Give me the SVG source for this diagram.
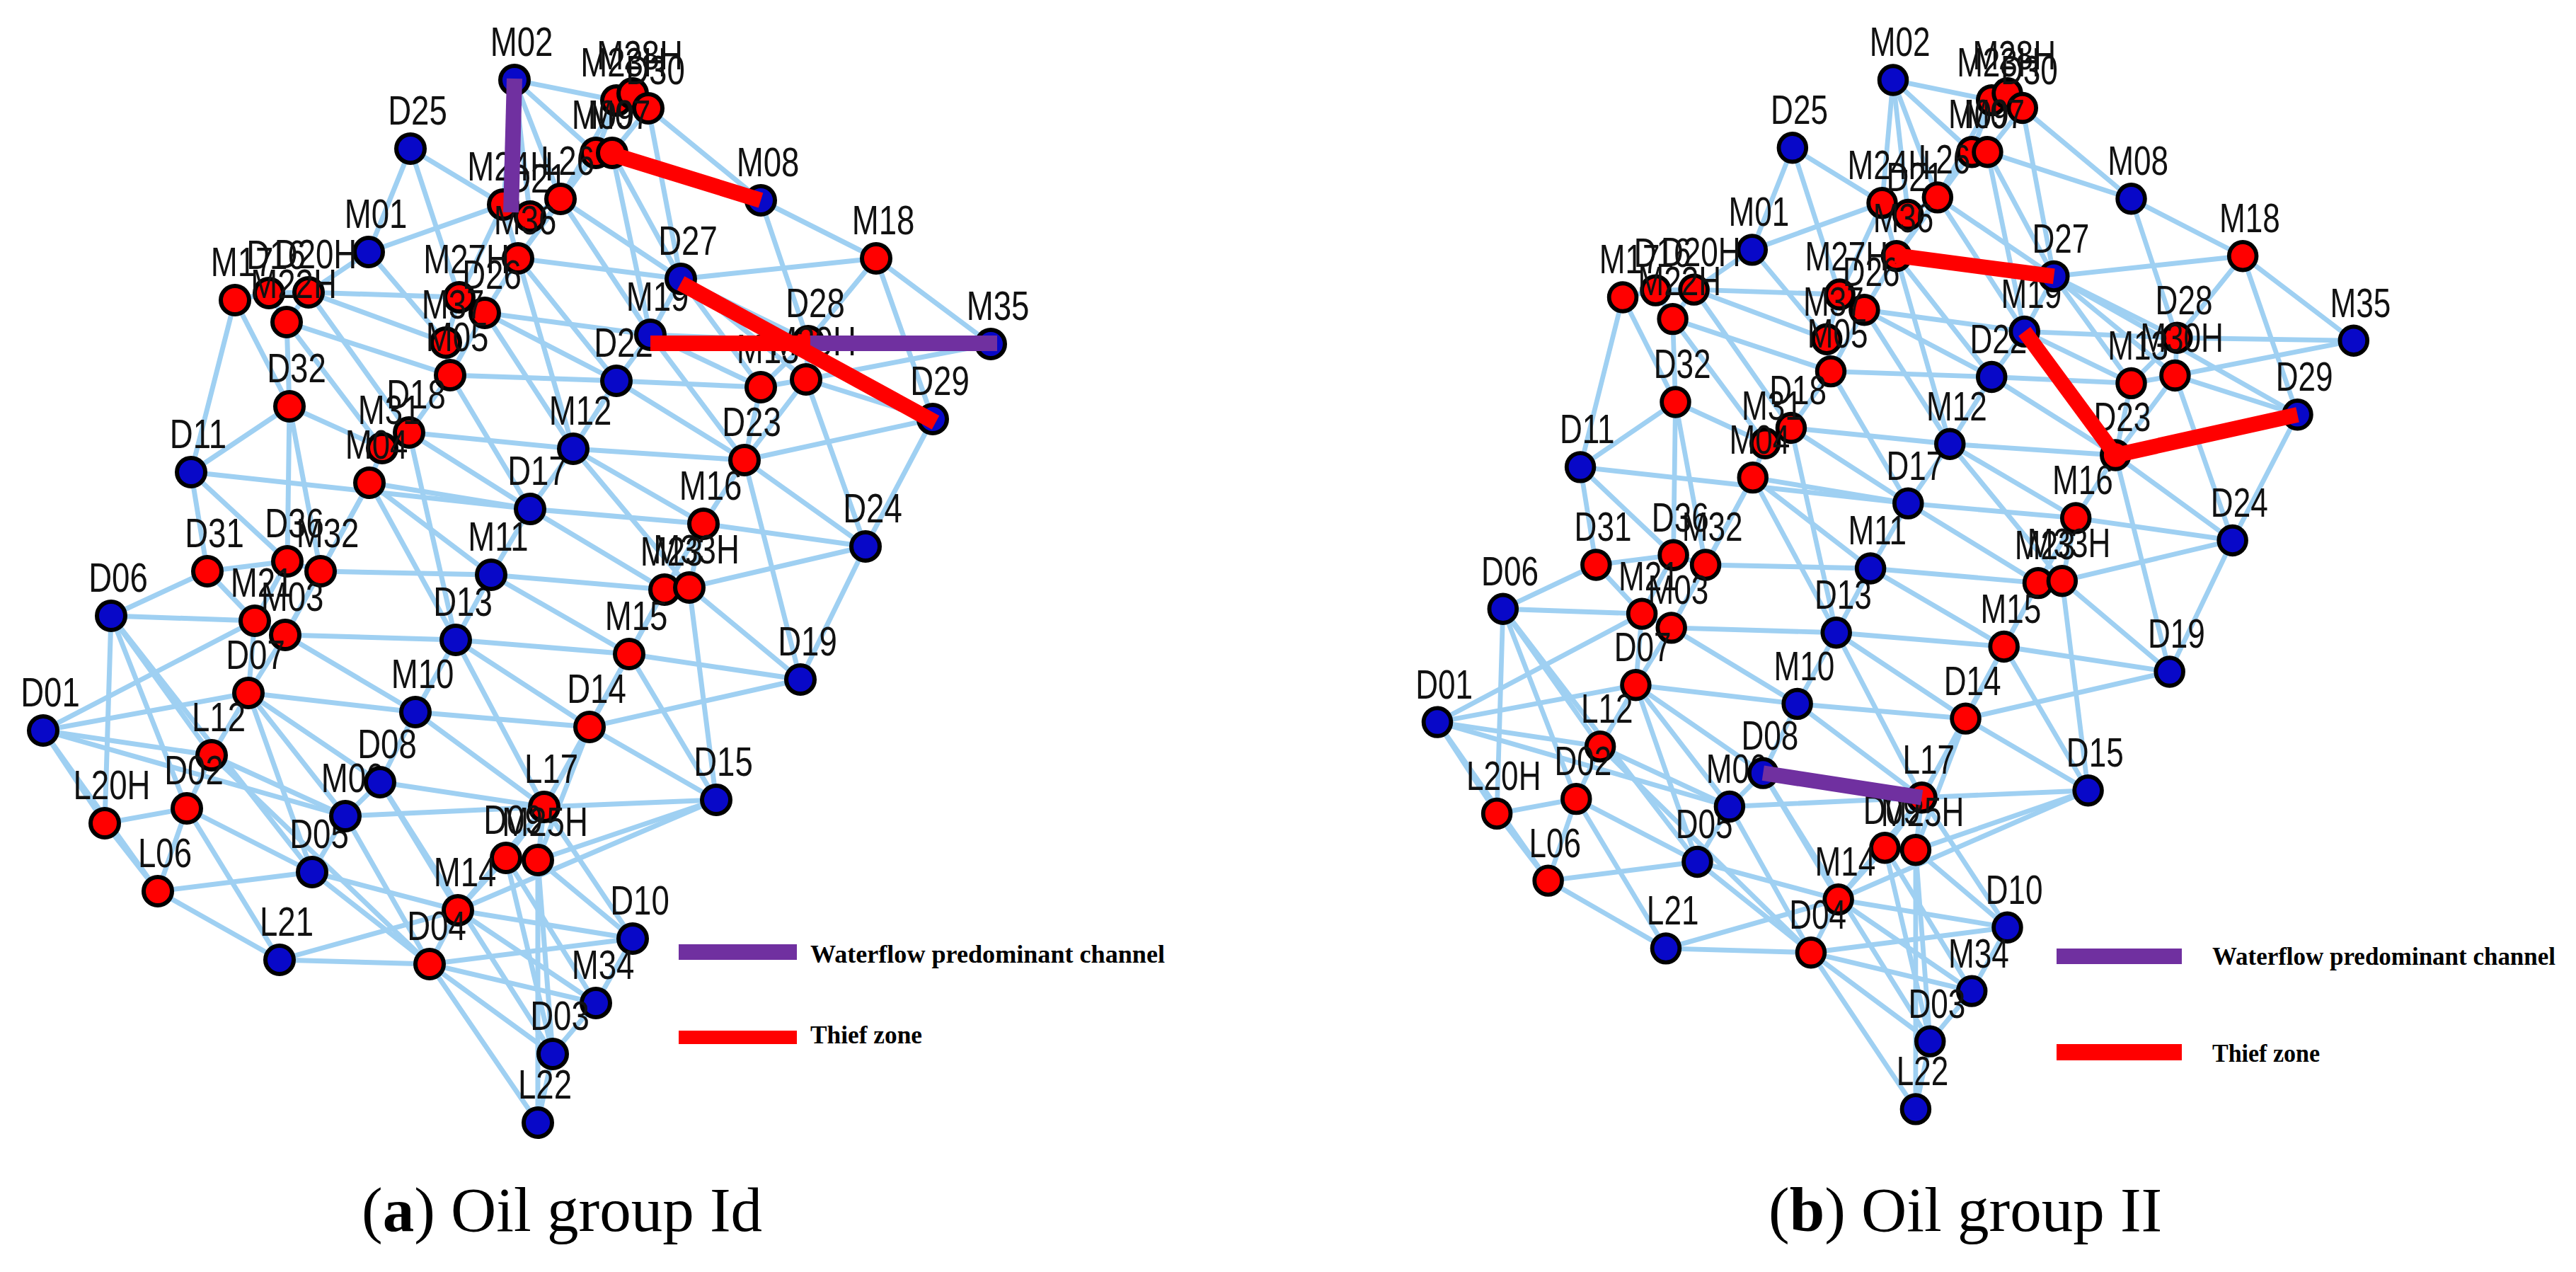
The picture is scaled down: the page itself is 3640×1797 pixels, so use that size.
<svg xmlns="http://www.w3.org/2000/svg" xmlns:xlink="http://www.w3.org/1999/xlink" width="3640" height="1797" viewBox="0 0 3640 1797">
<style>
.e path{fill:none;stroke:#9FD0F2;stroke-width:7;stroke-linecap:round}
.nd circle{stroke:#000;stroke-width:6}
.nd .r{fill:#FF0000}
.nd .b{fill:#0808C8}
.nd text{font-family:"Liberation Sans",Arial,sans-serif;font-size:48px;fill:#111;text-anchor:middle;transform:translate(10px,-34px) scale(.95,1.2)}
.hp{stroke:#7030A0;stroke-width:22;fill:none}
.hr{stroke:#FF0000;stroke-width:22;fill:none;stroke-linejoin:round}
.lg{font-family:"Liberation Serif","Times New Roman",serif;font-weight:bold;font-size:36px;fill:#000}
.cap{font-family:"Liberation Serif","Times New Roman",serif;font-size:89px;fill:#000}
</style>
<rect width="3640" height="1797" fill="#fff"/>
<defs>
<g id="a-connectors" class="e">
<path d="M727 113 871 142"/><path d="M727 113 842 216"/><path d="M727 113 792 281"/><path d="M727 113 749 306"/><path d="M727 113 711 289"/>
<path d="M580 210 521 356"/><path d="M580 210 711 289"/><path d="M580 210 649 420"/><path d="M521 356 711 289"/><path d="M521 356 436 413"/><path d="M521 356 630 484"/>
<path d="M871 142 894 132"/><path d="M894 132 916 153"/><path d="M871 142 842 216"/><path d="M916 153 865 216"/><path d="M916 153 1075 283"/><path d="M916 153 962 394"/>
<path d="M842 216 792 281"/><path d="M842 216 732 365"/><path d="M865 216 962 394"/><path d="M865 216 919 473"/><path d="M871 142 792 281"/><path d="M865 216 1075 283"/>
<path d="M711 289 749 306"/><path d="M749 306 792 281"/><path d="M711 289 732 365"/><path d="M792 281 732 365"/><path d="M711 289 649 420"/><path d="M792 281 962 394"/><path d="M792 281 919 473"/>
<path d="M732 365 962 394"/><path d="M732 365 685 442"/><path d="M732 365 871 538"/><path d="M732 365 810 634"/>
<path d="M1075 283 1142 482"/><path d="M1075 283 1238 365"/><path d="M1238 365 962 394"/><path d="M1238 365 1400 486"/><path d="M1238 365 1142 482"/><path d="M1238 365 1318 592"/>
<path d="M962 394 1139 536"/><path d="M962 394 1075 547"/><path d="M1400 486 1139 536"/><path d="M919 473 1075 547"/><path d="M919 473 1052 650"/><path d="M1075 547 1139 536"/><path d="M1075 547 1052 650"/>
<path d="M1139 536 1318 592"/><path d="M1139 536 1052 650"/><path d="M1139 536 1223 772"/><path d="M871 538 1075 547"/><path d="M871 538 919 473"/><path d="M871 538 1052 650"/>
<path d="M1142 482 1139 536"/><path d="M1142 482 1075 547"/><path d="M1052 650 810 634"/><path d="M1052 650 1318 592"/><path d="M1052 650 994 740"/><path d="M1052 650 1223 772"/><path d="M1052 650 1131 960"/>
<path d="M1318 592 1223 772"/><path d="M994 740 1223 772"/><path d="M994 740 939 833"/><path d="M994 740 974 830"/><path d="M749 719 994 740"/><path d="M810 634 994 740"/>
<path d="M974 830 1223 772"/><path d="M974 830 1131 960"/><path d="M974 830 1012 1130"/><path d="M939 833 974 830"/><path d="M939 833 889 924"/><path d="M939 833 833 1027"/>
<path d="M889 924 1131 960"/><path d="M833 1027 1131 960"/><path d="M833 1027 1012 1130"/><path d="M889 924 1012 1130"/><path d="M769 1140 1012 1130"/><path d="M647 1286 1012 1130"/><path d="M889 924 833 1027"/>
<path d="M270 667 749 719"/><path d="M270 667 332 424"/><path d="M270 667 293 807"/><path d="M270 667 406 793"/><path d="M409 574 406 793"/><path d="M409 574 270 667"/>
<path d="M405 455 409 574"/><path d="M332 424 409 574"/><path d="M332 424 380 414"/><path d="M380 414 436 413"/><path d="M380 414 405 455"/><path d="M436 413 405 455"/>
<path d="M436 413 649 420"/><path d="M436 413 630 484"/><path d="M405 455 636 530"/><path d="M436 413 578 611"/><path d="M405 455 540 633"/>
<path d="M649 420 685 442"/><path d="M649 420 630 484"/><path d="M630 484 636 530"/><path d="M685 442 636 530"/><path d="M685 442 919 473"/><path d="M685 442 871 538"/><path d="M636 530 871 538"/><path d="M685 442 810 634"/>
<path d="M636 530 578 611"/><path d="M636 530 749 719"/><path d="M578 611 540 633"/><path d="M540 633 522 682"/><path d="M578 611 810 634"/><path d="M578 611 749 719"/><path d="M578 611 644 904"/>
<path d="M522 682 453 807"/><path d="M522 682 403 897"/><path d="M522 682 694 812"/><path d="M522 682 644 904"/><path d="M522 682 749 719"/><path d="M409 574 540 633"/><path d="M409 574 453 807"/>
<path d="M293 807 360 877"/><path d="M293 807 157 870"/><path d="M293 807 406 793"/><path d="M406 793 453 807"/><path d="M406 793 360 877"/><path d="M453 807 403 897"/><path d="M453 807 694 812"/>
<path d="M360 877 403 897"/><path d="M403 897 351 979"/><path d="M403 897 644 904"/><path d="M403 897 587 1006"/><path d="M360 877 351 979"/>
<path d="M157 870 360 877"/><path d="M157 870 148 1163"/><path d="M157 870 264 1142"/><path d="M157 870 299 1067"/><path d="M157 870 441 1232"/>
<path d="M61 1032 360 877"/><path d="M61 1032 299 1067"/><path d="M61 1032 351 979"/><path d="M61 1032 223 1259"/><path d="M61 1032 488 1153"/><path d="M61 1032 148 1163"/>
<path d="M351 979 299 1067"/><path d="M351 979 587 1006"/><path d="M351 979 537 1105"/><path d="M351 979 488 1153"/><path d="M351 979 441 1232"/>
<path d="M299 1067 264 1142"/><path d="M299 1067 488 1153"/><path d="M299 1067 607 1362"/><path d="M264 1142 148 1163"/><path d="M264 1142 223 1259"/><path d="M264 1142 441 1232"/><path d="M264 1142 395 1356"/>
<path d="M148 1163 223 1259"/><path d="M223 1259 441 1232"/><path d="M223 1259 395 1356"/><path d="M441 1232 607 1362"/><path d="M441 1232 488 1153"/><path d="M441 1232 647 1286"/>
<path d="M488 1153 537 1105"/><path d="M488 1153 607 1362"/><path d="M488 1153 769 1140"/><path d="M537 1105 587 1006"/><path d="M537 1105 769 1140"/><path d="M537 1105 647 1286"/><path d="M537 1105 781 1489"/>
<path d="M587 1006 644 904"/><path d="M587 1006 833 1027"/><path d="M587 1006 769 1140"/><path d="M644 904 694 812"/><path d="M644 904 889 924"/><path d="M644 904 833 1027"/><path d="M644 904 769 1140"/>
<path d="M694 812 749 719"/><path d="M694 812 889 924"/><path d="M694 812 939 833"/><path d="M749 719 810 634"/><path d="M749 719 939 833"/><path d="M810 634 871 538"/><path d="M810 634 974 830"/>
<path d="M833 1027 769 1140"/><path d="M833 1027 760 1215"/><path d="M769 1140 715 1212"/><path d="M769 1140 760 1215"/><path d="M769 1140 647 1286"/>
<path d="M715 1212 760 1215"/><path d="M715 1212 647 1286"/><path d="M715 1212 781 1489"/><path d="M760 1215 781 1489"/><path d="M760 1215 760 1586"/><path d="M715 1212 842 1417"/><path d="M760 1215 894 1326"/><path d="M760 1215 1012 1130"/>
<path d="M647 1286 607 1362"/><path d="M647 1286 894 1326"/><path d="M647 1286 842 1417"/><path d="M647 1286 395 1356"/>
<path d="M607 1362 395 1356"/><path d="M607 1362 760 1586"/><path d="M607 1362 781 1489"/><path d="M607 1362 894 1326"/><path d="M607 1362 842 1417"/>
<path d="M894 1326 842 1417"/><path d="M842 1417 781 1489"/><path d="M781 1489 760 1586"/><path d="M894 1326 769 1140"/><path d="M889 924 769 1140"/>
<path d="M1400 486 1142 482"/><path d="M962 394 1318 592"/><path d="M919 473 1142 482"/><path d="M962 394 1142 482"/><path d="M919 473 962 394"/><path d="M1223 772 1131 960"/>
</g>
</defs>

<g id="panel-a">
<use xlink:href="#a-connectors" href="#a-connectors"/>
<g id="a-nodes">
<g id="a-M02" class="nd" transform="translate(727,113)"><circle class="b" r="20"/><text>M02</text></g>
<g id="a-D25" class="nd" transform="translate(580,210)"><circle class="b" r="20"/><text>D25</text></g>
<g id="a-M01" class="nd" transform="translate(521,356)"><circle class="b" r="20"/><text>M01</text></g>
<g id="a-M23H" class="nd" transform="translate(871,142)"><circle class="r" r="20"/><text>M23H</text></g>
<g id="a-M28H" class="nd" transform="translate(894,132)"><circle class="r" r="20"/><text>M28H</text></g>
<g id="a-D30" class="nd" transform="translate(916,153)"><circle class="r" r="20"/><text>D30</text></g>
<g id="a-M09" class="nd" transform="translate(842,216)"><circle class="r" r="20"/><text>M09</text></g>
<g id="a-M07" class="nd" transform="translate(865,216)"><circle class="r" r="20"/><text>M07</text></g>
<g id="a-M24H" class="nd" transform="translate(711,289)"><circle class="r" r="20"/><text>M24H</text></g>
<g id="a-D21" class="nd" transform="translate(749,306)"><circle class="r" r="20"/><text>D21</text></g>
<g id="a-L26" class="nd" transform="translate(792,281)"><circle class="r" r="20"/><text>L26</text></g>
<g id="a-M36" class="nd" transform="translate(732,365)"><circle class="r" r="20"/><text>M36</text></g>
<g id="a-M17" class="nd" transform="translate(332,424)"><circle class="r" r="20"/><text>M17</text></g>
<g id="a-D16" class="nd" transform="translate(380,414)"><circle class="r" r="20"/><text>D16</text></g>
<g id="a-D20H" class="nd" transform="translate(436,413)"><circle class="r" r="20"/><text>D20H</text></g>
<g id="a-M22H" class="nd" transform="translate(405,455)"><circle class="r" r="20"/><text>M22H</text></g>
<g id="a-M27H" class="nd" transform="translate(649,420)"><circle class="r" r="20"/><text>M27H</text></g>
<g id="a-D26" class="nd" transform="translate(685,442)"><circle class="r" r="20"/><text>D26</text></g>
<g id="a-M37" class="nd" transform="translate(630,484)"><circle class="r" r="20"/><text>M37</text></g>
<g id="a-M05" class="nd" transform="translate(636,530)"><circle class="r" r="20"/><text>M05</text></g>
<g id="a-D18" class="nd" transform="translate(578,611)"><circle class="r" r="20"/><text>D18</text></g>
<g id="a-M31" class="nd" transform="translate(540,633)"><circle class="r" r="20"/><text>M31</text></g>
<g id="a-M04" class="nd" transform="translate(522,682)"><circle class="r" r="20"/><text>M04</text></g>
<g id="a-D32" class="nd" transform="translate(409,574)"><circle class="r" r="20"/><text>D32</text></g>
<g id="a-D11" class="nd" transform="translate(270,667)"><circle class="b" r="20"/><text>D11</text></g>
<g id="a-D31" class="nd" transform="translate(293,807)"><circle class="r" r="20"/><text>D31</text></g>
<g id="a-D36" class="nd" transform="translate(406,793)"><circle class="r" r="20"/><text>D36</text></g>
<g id="a-M32" class="nd" transform="translate(453,807)"><circle class="r" r="20"/><text>M32</text></g>
<g id="a-M21" class="nd" transform="translate(360,877)"><circle class="r" r="20"/><text>M21</text></g>
<g id="a-M03" class="nd" transform="translate(403,897)"><circle class="r" r="20"/><text>M03</text></g>
<g id="a-D07" class="nd" transform="translate(351,979)"><circle class="r" r="20"/><text>D07</text></g>
<g id="a-D06" class="nd" transform="translate(157,870)"><circle class="b" r="20"/><text>D06</text></g>
<g id="a-D01" class="nd" transform="translate(61,1032)"><circle class="b" r="20"/><text>D01</text></g>
<g id="a-L12" class="nd" transform="translate(299,1067)"><circle class="r" r="20"/><text>L12</text></g>
<g id="a-L20H" class="nd" transform="translate(148,1163)"><circle class="r" r="20"/><text>L20H</text></g>
<g id="a-D02" class="nd" transform="translate(264,1142)"><circle class="r" r="20"/><text>D02</text></g>
<g id="a-L06" class="nd" transform="translate(223,1259)"><circle class="r" r="20"/><text>L06</text></g>
<g id="a-D05" class="nd" transform="translate(441,1232)"><circle class="b" r="20"/><text>D05</text></g>
<g id="a-M06" class="nd" transform="translate(488,1153)"><circle class="b" r="20"/><text>M06</text></g>
<g id="a-D08" class="nd" transform="translate(537,1105)"><circle class="b" r="20"/><text>D08</text></g>
<g id="a-M10" class="nd" transform="translate(587,1006)"><circle class="b" r="20"/><text>M10</text></g>
<g id="a-D13" class="nd" transform="translate(644,904)"><circle class="b" r="20"/><text>D13</text></g>
<g id="a-M11" class="nd" transform="translate(694,812)"><circle class="b" r="20"/><text>M11</text></g>
<g id="a-D17" class="nd" transform="translate(749,719)"><circle class="b" r="20"/><text>D17</text></g>
<g id="a-M12" class="nd" transform="translate(810,634)"><circle class="b" r="20"/><text>M12</text></g>
<g id="a-D22" class="nd" transform="translate(871,538)"><circle class="b" r="20"/><text>D22</text></g>
<g id="a-M19" class="nd" transform="translate(919,473)"><circle class="b" r="20"/><text>M19</text></g>
<g id="a-D27" class="nd" transform="translate(962,394)"><circle class="b" r="20"/><text>D27</text></g>
<g id="a-M08" class="nd" transform="translate(1075,283)"><circle class="b" r="20"/><text>M08</text></g>
<g id="a-M18" class="nd" transform="translate(1238,365)"><circle class="r" r="20"/><text>M18</text></g>
<g id="a-M35" class="nd" transform="translate(1400,486)"><circle class="b" r="20"/><text>M35</text></g>
<g id="a-D28" class="nd" transform="translate(1142,482)"><circle class="r" r="20"/><text>D28</text></g>
<g id="a-M30H" class="nd" transform="translate(1139,536)"><circle class="r" r="20"/><text>M30H</text></g>
<g id="a-M13" class="nd" transform="translate(1075,547)"><circle class="r" r="20"/><text>M13</text></g>
<g id="a-D29" class="nd" transform="translate(1318,592)"><circle class="b" r="20"/><text>D29</text></g>
<g id="a-D23" class="nd" transform="translate(1052,650)"><circle class="r" r="20"/><text>D23</text></g>
<g id="a-M16" class="nd" transform="translate(994,740)"><circle class="r" r="20"/><text>M16</text></g>
<g id="a-D24" class="nd" transform="translate(1223,772)"><circle class="b" r="20"/><text>D24</text></g>
<g id="a-M23" class="nd" transform="translate(939,833)"><circle class="r" r="20"/><text>M23</text></g>
<g id="a-M33H" class="nd" transform="translate(974,830)"><circle class="r" r="20"/><text>M33H</text></g>
<g id="a-M15" class="nd" transform="translate(889,924)"><circle class="r" r="20"/><text>M15</text></g>
<g id="a-D19" class="nd" transform="translate(1131,960)"><circle class="b" r="20"/><text>D19</text></g>
<g id="a-D14" class="nd" transform="translate(833,1027)"><circle class="r" r="20"/><text>D14</text></g>
<g id="a-D15" class="nd" transform="translate(1012,1130)"><circle class="b" r="20"/><text>D15</text></g>
<g id="a-L17" class="nd" transform="translate(769,1140)"><circle class="r" r="20"/><text>L17</text></g>
<g id="a-D09" class="nd" transform="translate(715,1212)"><circle class="r" r="20"/><text>D09</text></g>
<g id="a-M25H" class="nd" transform="translate(760,1215)"><circle class="r" r="20"/><text>M25H</text></g>
<g id="a-M14" class="nd" transform="translate(647,1286)"><circle class="r" r="20"/><text>M14</text></g>
<g id="a-D10" class="nd" transform="translate(894,1326)"><circle class="b" r="20"/><text>D10</text></g>
<g id="a-M34" class="nd" transform="translate(842,1417)"><circle class="b" r="20"/><text>M34</text></g>
<g id="a-D03" class="nd" transform="translate(781,1489)"><circle class="b" r="20"/><text>D03</text></g>
<g id="a-L22" class="nd" transform="translate(760,1586)"><circle class="b" r="20"/><text>L22</text></g>
<g id="a-D04" class="nd" transform="translate(607,1362)"><circle class="r" r="20"/><text>D04</text></g>
<g id="a-L21" class="nd" transform="translate(395,1356)"><circle class="b" r="20"/><text>L21</text></g>
</g>
<g id="a-highlights">
<path class="hp" d="M727 111L722 300"/>
<path class="hr" d="M865 218L1075 283"/>
<path class="hr" d="M919 485L1145 485"/>
<path class="hp" d="M1145 485L1409 485"/>
<path class="hr" d="M962 400L1322 597"/>
</g>
<g id="a-legend">
<rect x="959" y="1334" width="167" height="22" fill="#7030A0"/>
<text class="lg" x="1145" y="1360" textLength="501" lengthAdjust="spacingAndGlyphs">Waterflow predominant channel</text>
<rect x="959" y="1456" width="167" height="19" fill="#FF0000"/>
<text class="lg" x="1145" y="1474" textLength="158" lengthAdjust="spacingAndGlyphs">Thief zone</text>
</g>
<text class="cap" x="511" y="1739">(<tspan font-weight="bold">a</tspan>) Oil group Id</text>
</g>

<g id="panel-b">
<g transform="translate(1972,1.5) scale(0.967,0.987)">
<g id="b-connectors"><use xlink:href="#a-connectors" href="#a-connectors"/></g>
<g id="b-nodes">
<g id="b-M02" class="nd" transform="translate(727,113)"><circle class="b" r="20"/><text>M02</text></g>
<g id="b-D25" class="nd" transform="translate(580,210)"><circle class="b" r="20"/><text>D25</text></g>
<g id="b-M01" class="nd" transform="translate(521,356)"><circle class="b" r="20"/><text>M01</text></g>
<g id="b-M23H" class="nd" transform="translate(871,142)"><circle class="r" r="20"/><text>M23H</text></g>
<g id="b-M28H" class="nd" transform="translate(894,132)"><circle class="r" r="20"/><text>M28H</text></g>
<g id="b-D30" class="nd" transform="translate(916,153)"><circle class="r" r="20"/><text>D30</text></g>
<g id="b-M09" class="nd" transform="translate(842,216)"><circle class="r" r="20"/><text>M09</text></g>
<g id="b-M07" class="nd" transform="translate(865,216)"><circle class="r" r="20"/><text>M07</text></g>
<g id="b-M24H" class="nd" transform="translate(711,289)"><circle class="r" r="20"/><text>M24H</text></g>
<g id="b-D21" class="nd" transform="translate(749,306)"><circle class="r" r="20"/><text>D21</text></g>
<g id="b-L26" class="nd" transform="translate(792,281)"><circle class="r" r="20"/><text>L26</text></g>
<g id="b-M36" class="nd" transform="translate(732,365)"><circle class="r" r="20"/><text>M36</text></g>
<g id="b-M17" class="nd" transform="translate(332,424)"><circle class="r" r="20"/><text>M17</text></g>
<g id="b-D16" class="nd" transform="translate(380,414)"><circle class="r" r="20"/><text>D16</text></g>
<g id="b-D20H" class="nd" transform="translate(436,413)"><circle class="r" r="20"/><text>D20H</text></g>
<g id="b-M22H" class="nd" transform="translate(405,455)"><circle class="r" r="20"/><text>M22H</text></g>
<g id="b-M27H" class="nd" transform="translate(649,420)"><circle class="r" r="20"/><text>M27H</text></g>
<g id="b-D26" class="nd" transform="translate(685,442)"><circle class="r" r="20"/><text>D26</text></g>
<g id="b-M37" class="nd" transform="translate(630,484)"><circle class="r" r="20"/><text>M37</text></g>
<g id="b-M05" class="nd" transform="translate(636,530)"><circle class="r" r="20"/><text>M05</text></g>
<g id="b-D18" class="nd" transform="translate(578,611)"><circle class="r" r="20"/><text>D18</text></g>
<g id="b-M31" class="nd" transform="translate(540,633)"><circle class="r" r="20"/><text>M31</text></g>
<g id="b-M04" class="nd" transform="translate(522,682)"><circle class="r" r="20"/><text>M04</text></g>
<g id="b-D32" class="nd" transform="translate(409,574)"><circle class="r" r="20"/><text>D32</text></g>
<g id="b-D11" class="nd" transform="translate(270,667)"><circle class="b" r="20"/><text>D11</text></g>
<g id="b-D31" class="nd" transform="translate(293,807)"><circle class="r" r="20"/><text>D31</text></g>
<g id="b-D36" class="nd" transform="translate(406,793)"><circle class="r" r="20"/><text>D36</text></g>
<g id="b-M32" class="nd" transform="translate(453,807)"><circle class="r" r="20"/><text>M32</text></g>
<g id="b-M21" class="nd" transform="translate(360,877)"><circle class="r" r="20"/><text>M21</text></g>
<g id="b-M03" class="nd" transform="translate(403,897)"><circle class="r" r="20"/><text>M03</text></g>
<g id="b-D07" class="nd" transform="translate(351,979)"><circle class="r" r="20"/><text>D07</text></g>
<g id="b-D06" class="nd" transform="translate(157,870)"><circle class="b" r="20"/><text>D06</text></g>
<g id="b-D01" class="nd" transform="translate(61,1032)"><circle class="b" r="20"/><text>D01</text></g>
<g id="b-L12" class="nd" transform="translate(299,1067)"><circle class="r" r="20"/><text>L12</text></g>
<g id="b-L20H" class="nd" transform="translate(148,1163)"><circle class="r" r="20"/><text>L20H</text></g>
<g id="b-D02" class="nd" transform="translate(264,1142)"><circle class="r" r="20"/><text>D02</text></g>
<g id="b-L06" class="nd" transform="translate(223,1259)"><circle class="r" r="20"/><text>L06</text></g>
<g id="b-D05" class="nd" transform="translate(441,1232)"><circle class="b" r="20"/><text>D05</text></g>
<g id="b-M06" class="nd" transform="translate(488,1153)"><circle class="b" r="20"/><text>M06</text></g>
<g id="b-D08" class="nd" transform="translate(537,1105)"><circle class="b" r="20"/><text>D08</text></g>
<g id="b-M10" class="nd" transform="translate(587,1006)"><circle class="b" r="20"/><text>M10</text></g>
<g id="b-D13" class="nd" transform="translate(644,904)"><circle class="b" r="20"/><text>D13</text></g>
<g id="b-M11" class="nd" transform="translate(694,812)"><circle class="b" r="20"/><text>M11</text></g>
<g id="b-D17" class="nd" transform="translate(749,719)"><circle class="b" r="20"/><text>D17</text></g>
<g id="b-M12" class="nd" transform="translate(810,634)"><circle class="b" r="20"/><text>M12</text></g>
<g id="b-D22" class="nd" transform="translate(871,538)"><circle class="b" r="20"/><text>D22</text></g>
<g id="b-M19" class="nd" transform="translate(919,473)"><circle class="b" r="20"/><text>M19</text></g>
<g id="b-D27" class="nd" transform="translate(962,394)"><circle class="b" r="20"/><text>D27</text></g>
<g id="b-M08" class="nd" transform="translate(1075,283)"><circle class="b" r="20"/><text>M08</text></g>
<g id="b-M18" class="nd" transform="translate(1238,365)"><circle class="r" r="20"/><text>M18</text></g>
<g id="b-M35" class="nd" transform="translate(1400,486)"><circle class="b" r="20"/><text>M35</text></g>
<g id="b-D28" class="nd" transform="translate(1142,482)"><circle class="r" r="20"/><text>D28</text></g>
<g id="b-M30H" class="nd" transform="translate(1139,536)"><circle class="r" r="20"/><text>M30H</text></g>
<g id="b-M13" class="nd" transform="translate(1075,547)"><circle class="r" r="20"/><text>M13</text></g>
<g id="b-D29" class="nd" transform="translate(1318,592)"><circle class="b" r="20"/><text>D29</text></g>
<g id="b-D23" class="nd" transform="translate(1052,650)"><circle class="r" r="20"/><text>D23</text></g>
<g id="b-M16" class="nd" transform="translate(994,740)"><circle class="r" r="20"/><text>M16</text></g>
<g id="b-D24" class="nd" transform="translate(1223,772)"><circle class="b" r="20"/><text>D24</text></g>
<g id="b-M23" class="nd" transform="translate(939,833)"><circle class="r" r="20"/><text>M23</text></g>
<g id="b-M33H" class="nd" transform="translate(974,830)"><circle class="r" r="20"/><text>M33H</text></g>
<g id="b-M15" class="nd" transform="translate(889,924)"><circle class="r" r="20"/><text>M15</text></g>
<g id="b-D19" class="nd" transform="translate(1131,960)"><circle class="b" r="20"/><text>D19</text></g>
<g id="b-D14" class="nd" transform="translate(833,1027)"><circle class="r" r="20"/><text>D14</text></g>
<g id="b-D15" class="nd" transform="translate(1012,1130)"><circle class="b" r="20"/><text>D15</text></g>
<g id="b-L17" class="nd" transform="translate(769,1140)"><circle class="r" r="20"/><text>L17</text></g>
<g id="b-D09" class="nd" transform="translate(715,1212)"><circle class="r" r="20"/><text>D09</text></g>
<g id="b-M25H" class="nd" transform="translate(760,1215)"><circle class="r" r="20"/><text>M25H</text></g>
<g id="b-M14" class="nd" transform="translate(647,1286)"><circle class="r" r="20"/><text>M14</text></g>
<g id="b-D10" class="nd" transform="translate(894,1326)"><circle class="b" r="20"/><text>D10</text></g>
<g id="b-M34" class="nd" transform="translate(842,1417)"><circle class="b" r="20"/><text>M34</text></g>
<g id="b-D03" class="nd" transform="translate(781,1489)"><circle class="b" r="20"/><text>D03</text></g>
<g id="b-L22" class="nd" transform="translate(760,1586)"><circle class="b" r="20"/><text>L22</text></g>
<g id="b-D04" class="nd" transform="translate(607,1362)"><circle class="r" r="20"/><text>D04</text></g>
<g id="b-L21" class="nd" transform="translate(395,1356)"><circle class="b" r="20"/><text>L21</text></g>
</g>
<g id="b-highlights">
<path class="hr" d="M730 364L962 394"/>
<path class="hr" d="M919 473L1052 650L1318 592"/>
<path class="hp" d="M537 1105L769 1140"/>
</g>
</g>
<g id="b-legend">
<rect x="2906" y="1340" width="177" height="22" fill="#7030A0"/>
<text class="lg" x="3126" y="1363" textLength="485" lengthAdjust="spacingAndGlyphs">Waterflow predominant channel</text>
<rect x="2906" y="1475" width="177" height="23" fill="#FF0000"/>
<text class="lg" x="3126" y="1500" textLength="152" lengthAdjust="spacingAndGlyphs">Thief zone</text>
</g>
<text class="cap" x="2499" y="1739">(<tspan font-weight="bold">b</tspan>) Oil group II</text>
</g>
</svg>
